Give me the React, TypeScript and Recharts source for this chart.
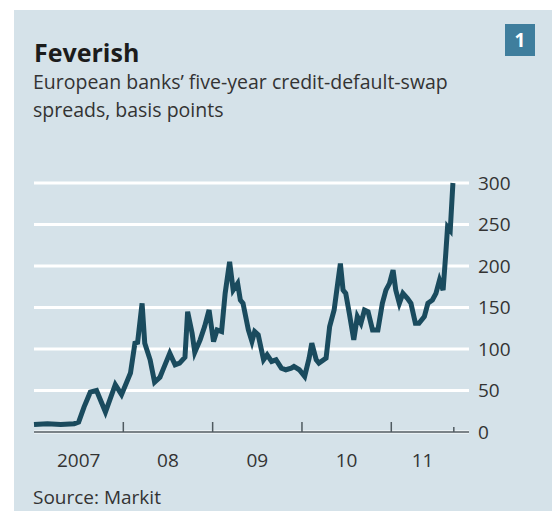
import React from 'react'
import { LineChart, Line, XAxis, YAxis, CartesianGrid } from 'recharts'

// time in fractional years, spread in basis points
const times = [
  2007.0, 2007.15, 2007.3, 2007.45, 2007.5, 2007.56, 2007.63, 2007.7, 2007.8, 2007.91, 2007.98,
  2008.08, 2008.13, 2008.16, 2008.21, 2008.24, 2008.3, 2008.35, 2008.41, 2008.44, 2008.52, 2008.58,
  2008.63, 2008.69, 2008.72, 2008.77, 2008.8, 2008.86, 2008.91, 2008.96, 2009.01, 2009.05, 2009.1,
  2009.14, 2009.19, 2009.23, 2009.28, 2009.31, 2009.34, 2009.4, 2009.44, 2009.47, 2009.51, 2009.57,
  2009.61, 2009.66, 2009.71, 2009.77, 2009.82, 2009.88, 2009.91, 2009.97, 2010.03, 2010.08, 2010.11,
  2010.16, 2010.19, 2010.27, 2010.31, 2010.36, 2010.4, 2010.43, 2010.46, 2010.49, 2010.53, 2010.58,
  2010.62, 2010.66, 2010.7, 2010.74, 2010.79, 2010.85, 2010.9, 2010.94, 2010.98, 2011.02, 2011.05,
  2011.09, 2011.13, 2011.18, 2011.22, 2011.27, 2011.31, 2011.37, 2011.41, 2011.46, 2011.5, 2011.54,
  2011.58, 2011.61, 2011.63, 2011.66, 2011.69,
]
const spreads = [
  9, 10, 9, 10, 12, 30, 48, 50, 24, 57, 45,
  71, 107, 108, 155, 107, 87, 60, 66, 74, 95, 81,
  83, 90, 145, 119, 96, 111, 127, 147, 109, 123, 121,
  167, 205, 171, 179, 159, 155, 123, 109, 121, 117, 87,
  93, 85, 87, 77, 75, 77, 79, 75, 67, 89, 107,
  87, 83, 89, 127, 147, 179, 203, 171, 167, 143, 111,
  139, 131, 147, 145, 123, 123, 155, 171, 179, 195, 171,
  155, 167, 161, 155, 131, 131, 139, 155, 159, 167, 183,
  171, 215, 247, 243, 300,
]

const yTicks = [0, 50, 100, 150, 200, 250, 300]
const yearStarts = [2008, 2009, 2010, 2011]
const lastDate = 2011.7
const labelPos = [2007.5, 2008.5, 2009.5, 2010.5, 2011.35]
const labelText = ['2007', '08', '09', '10', '11']

const data = times.map((t, i) => ({ t, v: spreads[i] }))
const xTicks = [...labelPos, ...yearStarts, lastDate].sort((a, b) => a - b)

const FONT = '"Open Sans", Lato, sans-serif'

function XTick(props: any) {
  const { x, y, payload } = props
  const i = labelPos.indexOf(payload.value)
  if (i >= 0) {
    return (
      <text x={x} y={y + 35} textAnchor="middle" fill="#333" fontSize={19} fontFamily={FONT}>
        {labelText[i]}
      </text>
    )
  }
  const len = payload.value === lastDate ? 5 : 10
  return <line x1={x} x2={x} y1={y} y2={y - len} stroke="#4f5a60" strokeWidth={1.5} />
}

export default function App() {
  return (
    <div style={{ position: 'absolute', left: 0, top: 0, width: 552, height: 511, background: '#fff', overflow: 'hidden' }}>
      <div style={{ position: 'absolute', left: 14, top: 10, width: 538, height: 501, background: '#d5e2e9' }} />
      <div style={{ position: 'absolute', left: 34, top: 36, fontFamily: FONT, fontWeight: 700, fontSize: 25, lineHeight: '32px', color: '#1c1c1c' }}>
        Feverish
      </div>
      <div style={{ position: 'absolute', left: 505, top: 24, width: 30, height: 32, background: '#3f7e9d', color: '#fff', fontFamily: FONT, fontWeight: 700, fontSize: 19, lineHeight: '32px', textAlign: 'center' }}>
        1
      </div>
      <div style={{ position: 'absolute', left: 33, top: 68.4, fontFamily: FONT, fontSize: 19.5, lineHeight: '28px', color: '#333' }}>
        European banks’ five-year credit-default-swap<br />spreads, basis points
      </div>
      <div style={{ position: 'absolute', left: 33, top: 485.6, fontFamily: FONT, fontSize: 19, lineHeight: '22px', color: '#333' }}>
        Source: Markit
      </div>
      <div style={{ position: 'absolute', left: 0, top: 0 }}>
        <LineChart width={552} height={511} data={data} margin={{ top: 174.7, right: 23, bottom: 39, left: 34 }}>
          <CartesianGrid horizontal vertical={false} syncWithTicks stroke="#ffffff" strokeWidth={3} />
          <XAxis
            dataKey="t"
            type="number"
            domain={[2007, 2011.87]}
            ticks={xTicks}
            interval={0}
            height={40}
            tickSize={0}
            tickMargin={0}
            tickLine={false}
            axisLine={{ stroke: '#4f5a60', strokeWidth: 1.5 }}
            tick={<XTick />}
          />
          <YAxis
            orientation="right"
            width={60}
            domain={[0, 310]}
            ticks={yTicks}
            interval={0}
            tickSize={0}
            tickMargin={9}
            tickLine={false}
            axisLine={false}
            tick={{ fill: '#333', fontSize: 19, fontFamily: FONT, textAnchor: 'start' }}
          />
          <Line type="linear" dataKey="v" stroke="#1a4b5e" strokeWidth={5} dot={false} isAnimationActive={false} />
        </LineChart>
      </div>
    </div>
  )
}
